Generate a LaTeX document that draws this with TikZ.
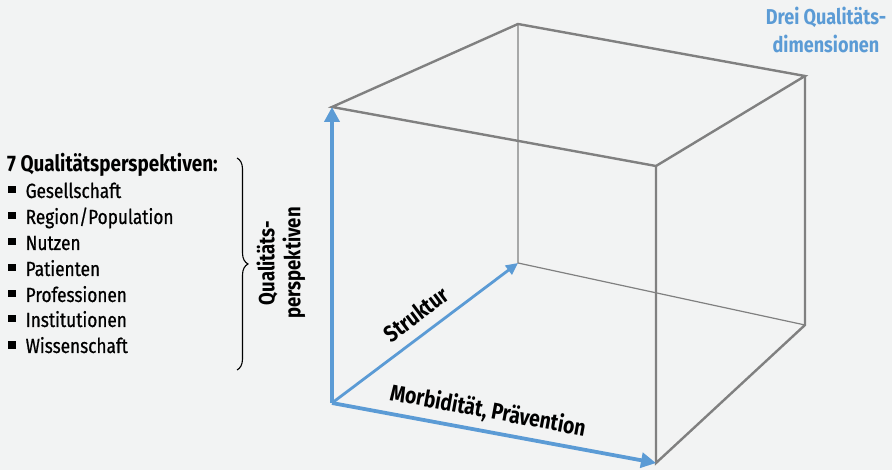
\documentclass[tikz,border=0pt]{standalone}
\usepackage{fontspec}
\setmainfont{Fira Sans}[FakeStretch=0.84]
\newfontfamily\medfont{Fira Sans}[FakeStretch=0.84, FakeBold=0.7]
\usetikzlibrary{arrows.meta,positioning,decorations.pathreplacing}
\definecolor{axisblue}{HTML}{5B9BD5}
\definecolor{edgegray}{HTML}{808080}
\definecolor{bggray}{HTML}{F2F3F3}
\newcommand{\sqbullet}{\rule[4.5pt]{7.5pt}{7.5pt}\hspace{10pt}}
\tikzset{
  edge/.style={draw=edgegray, line width=2.4pt},
  hidden/.style={draw=edgegray, line width=1.2pt},
  axis/.style={draw=axisblue, line width=3.8pt, -{Triangle[length=15pt,width=15pt]}},
  thinaxis/.style={draw=axisblue, line width=2.8pt, -{Triangle[length=12pt,width=11pt]}},
  axislabel/.style={font=\bfseries\fontsize{23}{26}\selectfont, inner sep=0pt},
  titlelabel/.style={font=\bfseries\fontsize{21.5}{28}\selectfont, text=axisblue, inner sep=0pt, anchor=base},
  listhead/.style={font=\bfseries\fontsize{22.5}{24}\selectfont, inner sep=0pt, anchor=base west},
  listitem/.style={font=\medfont\fontsize{20.5}{24}\selectfont, inner sep=0pt, anchor=base west},
  brace/.style={draw=black, line width=1.1pt, decorate, decoration={brace, amplitude=11pt}}
}
\begin{document}
\begin{tikzpicture}[x=1pt,y=-1pt]
  \useasboundingbox[fill=bggray] (0,0) rectangle (892,470);
  % cube corners
  \coordinate (o) at (332,403);
  \coordinate (ftl) at (332,107);
  \coordinate (ftr) at (656,166);
  \coordinate (fbr) at (656,463);
  \coordinate (btl) at (518,24);
  \coordinate (btr) at (805,76);
  \coordinate (bbr) at (805,325);
  \coordinate (bbl) at (518,263);
  % hidden edges
  \draw[hidden] (btl) -- (bbl) -- (bbr);
  % visible edges
  \draw[edge] (ftl) -- (btl) -- (btr) -- (ftr) -- cycle;
  \draw[edge] (ftr) -- (fbr) -- (bbr) -- (btr);
  % axes
  \draw[axis] (o) -- (ftl);
  \draw[axis] (o) -- (fbr);
  \draw[thinaxis] (o) -- (bbl);
  \node[axislabel, rotate=37] (struktur) at (416,314) {Struktur};
  \node[axislabel, rotate=-10.5] (morb) at (488,411) {Morbidität, Prävention};
  \node[axislabel, font=\bfseries\fontsize{22}{26}\selectfont, rotate=90, align=center] (persp) at (281,263) {Qualitäts-\\perspektiven};
  \node[titlelabel] (title1) at (826,25) {Drei Qualitäts-};
  \node[titlelabel] (title2) at (826,53) {dimensionen};
  % list of perspectives
  \node[listhead] (head) at (7,172) {7 Qualitätsperspektiven:};
  \node[listitem] (i1) at (8,198) {\sqbullet Gesellschaft};
  \node[listitem] (i2) at (8,224) {\sqbullet Region/Population};
  \node[listitem] (i3) at (8,250) {\sqbullet Nutzen};
  \node[listitem] (i4) at (8,276) {\sqbullet Patienten};
  \node[listitem] (i5) at (8,302) {\sqbullet Professionen};
  \node[listitem] (i6) at (8,327) {\sqbullet Institutionen};
  \node[listitem] (i7) at (8,353) {\sqbullet Wissenschaft};
  \draw[brace] (237,158) -- (237,370);
\end{tikzpicture}
\end{document}
